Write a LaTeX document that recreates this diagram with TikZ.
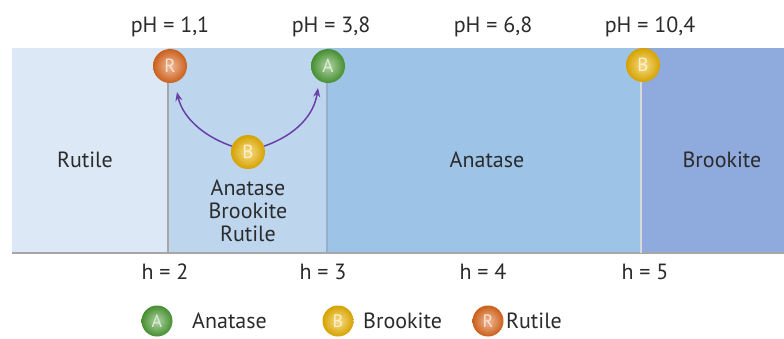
\documentclass[tikz,border=0pt]{standalone}
\usepackage{fontspec}
\setmainfont{PT Sans}
\usetikzlibrary{arrows.meta}
\definecolor{cR}{HTML}{DCE8F5}
\definecolor{cM}{HTML}{BDD6EE}
\definecolor{cA}{HTML}{9DC3E6}
\definecolor{cB}{HTML}{8FAADC}
\definecolor{txt}{HTML}{2B2B2B}
\definecolor{oR}{HTML}{E06A1E}
\definecolor{gA}{HTML}{4E9E36}
\definecolor{yB}{HTML}{EDB400}
\definecolor{arr}{HTML}{6A3FA8}
\tikzset{
  lbl/.style={font=\fontsize{22}{25}\selectfont, text=txt, inner sep=0pt},
  ball/.style={circle, minimum size=34pt, inner sep=0pt, shading=radial, inner color=#1!45!white, outer color=#1!90!black, text=white!80!#1, font=\fontsize{19}{19}\selectfont},
  legball/.style={circle, minimum size=31pt, inner sep=0pt, shading=radial, inner color=#1!45!white, outer color=#1!90!black, text=white!80!#1, font=\fontsize{18}{18}\selectfont},
  trans/.style={-{Stealth[length=9pt,width=7pt]}, arr, line width=1.5pt},
  divider/.style={draw=#1, line width=1.5pt}
}
\begin{document}
\begin{tikzpicture}[x=1pt,y=-1pt]
\useasboundingbox (0,0) rectangle (784,338);
% bands
\fill[cR] (12,48) rectangle (168,253);
\fill[cM] (168,48) rectangle (327,253);
\fill[cA] (327,48) rectangle (640,253);
\fill[cB] (640,48) rectangle (784,253);
\draw[gray!70, line width=1.5pt] (12,253) -- (784,253);
\draw[divider=gray!70] (168,70) -- (168,253);
\draw[divider=cA!70!gray] (327,70) -- (327,253);
\draw[divider=white!70!gray] (641,70) -- (641,253);
% labels top
\node[lbl] (ph1) at (170,27) {pH = 1,1};
\node[lbl] (ph2) at (331,27) {pH = 3,8};
\node[lbl] (ph3) at (493,27) {pH = 6,8};
\node[lbl] (ph4) at (650,27) {pH = 10,4};
% bottom labels
\node[lbl] (h2) at (165,272) {h = 2};
\node[lbl] (h3) at (323,272) {h = 3};
\node[lbl] (h4) at (483,272) {h = 4};
\node[lbl] (h5) at (645,272) {h = 5};
% region texts
\node[lbl] (rut) at (85,160) {Rutile};
\node[lbl, align=center] (mix) at (248,211) {Anatase\\[-2pt]Brookite\\[-2pt]Rutile};
\node[lbl] (ana) at (487,160) {Anatase};
\node[lbl] (bro) at (722,160) {Brookite};
% balls
\node[ball=oR] (R) at (170,66) {R};
\node[ball=gA] (A) at (328,66) {A};
\node[ball=yB] (B2) at (643,65) {B};
\node[ball=yB] (B) at (248,152) {B};
% arrows
\draw[trans] (B.160) .. controls (200,135) and (182,115) .. (177,92);
\draw[trans] (B.20) .. controls (296,135) and (314,115) .. (318,88);
% legend
\node[legball=gA] (LA) at (157,321) {A};
\node[lbl, anchor=west] (LAt) at (192,321) {Anatase};
\node[legball=yB] (LB) at (338,321) {B};
\node[lbl, anchor=west] (LBt) at (363,321) {Brookite};
\node[legball=oR] (LR) at (488,321) {R};
\node[lbl, anchor=west] (LRt) at (506,321) {Rutile};
\end{tikzpicture}
\end{document}
